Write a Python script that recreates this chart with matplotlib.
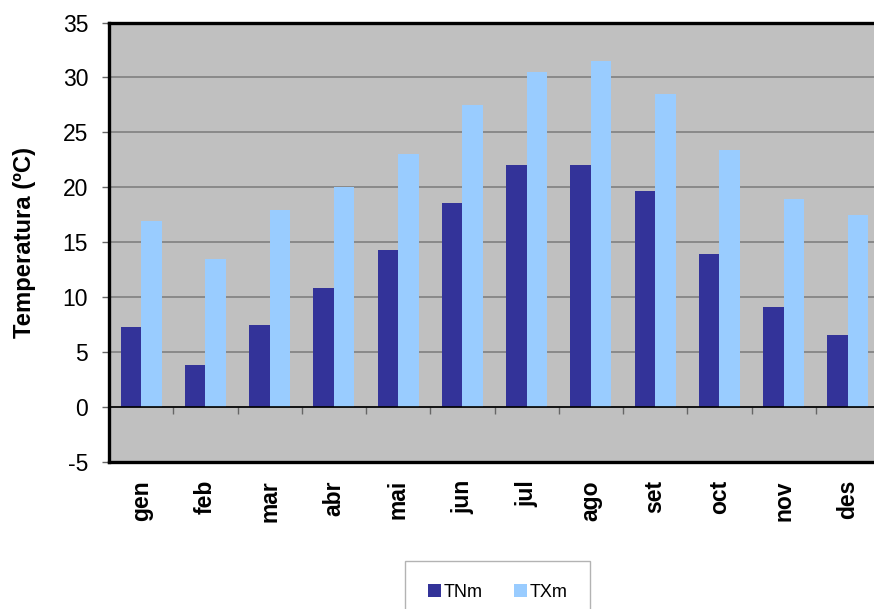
import matplotlib
matplotlib.use("Agg")
import matplotlib.pyplot as plt
from matplotlib.patches import Patch
import numpy as np

months = ["gen", "feb", "mar", "abr", "mai", "jun", "jul", "ago", "set", "oct", "nov", "des"]
tnm = [7.3, 3.8, 7.45, 10.8, 14.3, 18.6, 22.0, 22.0, 19.7, 13.9, 9.1, 6.6]
txm = [16.9, 13.45, 17.9, 20.0, 23.0, 27.5, 30.5, 31.5, 28.5, 23.4, 18.9, 17.5]
series_names = ["TNm", "TXm"]
yticks = [-5, 0, 5, 10, 15, 20, 25, 30, 35]

plt.rcParams['font.family'] = ['Liberation Sans', 'DejaVu Sans']

W, H = 874, 609
fig = plt.figure(figsize=(W / 100, H / 100), dpi=100)
left = 109 / W
bottom = (H - 462) / H
top = (H - 22.5) / H
width = 771 / W
ax = fig.add_axes([left, bottom, width, top - bottom])
ax.set_facecolor('#C0C0C0')

x = np.arange(len(months))
bw = 0.32
c_dark = '#333399'
c_light = '#99CCFF'
ax.bar(x - bw / 2, tnm, width=bw, color=c_dark, zorder=3)
ax.bar(x + bw / 2, txm, width=bw, color=c_light, zorder=3)

ax.set_xlim(-0.5, len(months) - 0.5)
ax.set_ylim(-5, 35)
ax.set_yticks(yticks)
ax.set_yticklabels([str(v) for v in yticks], fontsize=16.5)
ax.yaxis.grid(True, color='#858585', lw=1.3, zorder=1)
ax.set_axisbelow(True)
ax.tick_params(axis='y', direction='out', length=5, width=1, color='#666666', pad=10)

ax.set_xticks(x)
ax.set_xticklabels(months, rotation=90, fontsize=16.5, fontweight='bold')
ax.tick_params(axis='x', length=0, pad=13)

for s in ['left', 'top', 'bottom']:
    ax.spines[s].set_linewidth(2.4)
    ax.spines[s].set_color('black')
ax.spines['right'].set_visible(False)

ax.set_ylabel('Temperatura (ºC)', fontsize=17.2, fontweight='bold', va='center')
ax.yaxis.set_label_coords((24.5 - 109) / 771, 0.5)

# zero line with category boundary ticks
ax2 = ax.twiny()
ax2.set_xlim(ax.get_xlim())
for s in ['left', 'top', 'right']:
    ax2.spines[s].set_visible(False)
ax2.spines['bottom'].set_visible(True)
ax2.spines['bottom'].set_position(('data', 0))
ax2.spines['bottom'].set_linewidth(1.2)
ax2.spines['bottom'].set_color('black')
ax2.xaxis.set_ticks_position('bottom')
ax2.set_xticks(x[:-1] + 0.5)
ax2.tick_params(axis='x', direction='out', length=5, width=1, color='#666666',
                labelbottom=False, labeltop=False)

handles = [Patch(facecolor=c_dark, edgecolor='none'), Patch(facecolor=c_light, edgecolor='none')]
leg = fig.legend(handles, series_names, loc='upper center', ncol=2,
                 bbox_to_anchor=(497.5 / W, (H - 561) / H), bbox_transform=fig.transFigure,
                 fontsize=13, handlelength=0.75, handleheight=0.75, handletextpad=0.12,
                 columnspacing=1.72, borderpad=1.25, fancybox=False, frameon=True,
                 borderaxespad=0)
leg.get_frame().set_edgecolor('#A0A0A0')
leg.get_frame().set_linewidth(1)

fig.savefig('out.png', dpi=100)
